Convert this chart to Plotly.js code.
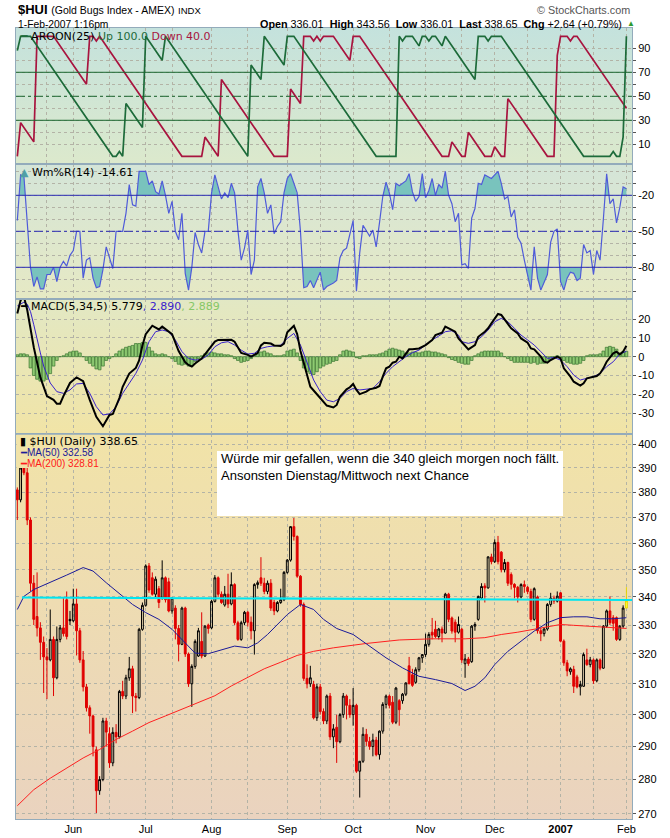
<!DOCTYPE html>
<html><head><meta charset="utf-8">
<script src="https://cdn.plot.ly/plotly-3.0.1.min.js"></script>
<style>html,body{margin:0;padding:0;background:#fff}#chart{width:670px;height:838px}</style>
</head><body><div id="chart"></div>
<script>
// ---------- axis labels ----------
const monthLabels = ['Jun','Jul','Aug','Sep','Oct','Nov','Dec','<b>2007</b>','Feb'];
const monthStart  = [17,39,59,82,102,124,145,165,185];
const midMonth    = [9,28,47,70,92,113,135,155,175];
const priceTicks  = [270,280,290,300,310,320,330,340,350,360,370,380,390,400];
const macdTicks   = [-30,-20,-10,0,10,20];
const wmrTicks    = [-100,-90,-80,-70,-60,-50,-40,-30,-20,-10,0];
const wmrLabeled  = [-20,-50,-80];
const aroonTicks  = [10,20,30,40,50,60,70,80,90];
const aroonLabeled= [10,30,50,70,90];
const aroonLevels = [30,70];  const aroonMid = 50;
const wmrLevels   = [-20,-80]; const wmrMid = -50;

// ---------- $HUI daily bars (8 May 2006 .. 1 Feb 2007) ----------
const opens = [381,377,391,388,369,345,333,329,324,319,318,325,312,325,329,339,332,331.5,337.5,328,
318,309,302.2,299.6,289,276.7,280,298,294,285,294.4,293,307.5,306,312,315,306,305.5,328.5,337,
351.4,347,341,343,339.6,347,345.5,335,336,328.8,323.3,336,320,310,315.8,319.3,324.3,319.3,330,329,
338.4,347,341,337.1,341,337.5,344.5,330.8,325,330.8,334.5,331,328,344.5,347,345,342,345,338,335,
338,339,349,353.6,366.4,362.6,347.6,337.3,311.8,310,309.8,299,309,301,298,306,293,296,291.5,300,
306,303,300,303,282.5,285.5,293.8,291.6,290,292,287.5,294.8,303.3,306,304,297.6,304.5,304.5,306.6,316,
313,310.5,314.7,318.7,319.8,323.3,327.5,328.5,326,328.6,327.2,341,332.5,331,327.5,328.5,316.7,318.3,317.4,329.6,
332,339.6,344,343.3,354.8,353,360.3,356.6,350,352.7,348.2,344.6,343.5,340,344.5,343.5,342,332,340,328,
327,328.6,337.3,339.6,338.5,341.5,324.4,317,314,314.8,312.3,309,309.2,318,316.4,318,311,318,315.2,329.6,
335,332.6,332.6,325,329.6,336.01];
const highs = [382,392,394,390,370,348,349,331,326,322,335.5,326,329.5,330,340,342,335,343,343,329,
321,310,303,300,290,281,299,299,296,296,297,308,311,313,319,316,307,329,338,352,
352.5,349,347.5,344,353.5,347.5,347,340,337,330,336.5,336.5,320.5,316.5,325,329,334.5,330,330.5,339,
348,347.5,342,344,348.5,349,345,331.5,331.5,335,335,333,345,346,354.7,347,346,346.5,339,338.5,
343,349.5,354,366.5,369.8,363,348,338,316.5,316,311,310,310,302,306.5,307,297,300,300.5,307,
306.5,305,308.6,303.5,285.5,296,295.5,293,294,293,295,304,306.5,306.5,306,309,305,307,310.5,319,
315,315.5,319,320,327,327.5,332.5,331.5,329,329.5,341.5,341.5,333,332,333,329,320,319,330,331,
340.5,345,345,355,356,361.5,362.8,357,354,353,349,345,344,345,346,344,343,343.5,340.5,329,
329,337.8,341.5,340.5,342,341.8,325,318,315.5,316,313,311,320.5,321.8,319,318.5,318.5,318.5,330,335.5,
340.2,333.5,333,330,337,343.56];
const lows = [369,376,387,367,342,330,326,318,307,305,317.5,306,311.5,324,326,325,330,331,319.5,317,
307.5,301,294,287,270.2,275.5,279.5,290,283.5,284,291,292.5,305,305,311,300.5,301,305,328,336.5,
341.5,340.5,340,336,339,338,334.5,334,325,317.5,323,319,309,302.5,315,319,318.5,319,327,328.5,
338,340,337.5,336.5,336,337,330,324.5,324.5,330,329.5,325,319.8,343,344,341,341,335,333.5,334.5,
337.5,338.5,348.5,353,361,347,336.5,311,308.5,309,298.5,298,300,297,297,292,289.5,285,291,299,
298.5,299,296.5,282,274.7,285,290.2,289,287,287,286,294,302,302,297,297,296.5,303.5,306,310,
309,310,314,317,319,322.5,325,325.5,325,324,327,331,327,324,327,317,312,316,317,328,
331.5,339,338,343,352,352.5,352,349,349,344,342.7,339.5,338,339.5,341.5,341,331,331.5,327,324.4,
326,328,336.5,337.5,338,324,316,312.5,313,307,308.5,306.2,309,316,315.5,310,310.5,314.5,315,329,
330,328,324.5,324.5,329,336.01];
const closes = [377,390,388,369,345,332,329,324,319,318,325,312,325,329,327,326,331.5,337.5,328,318,
309,302.2,299.6,290,276.7,280,298,294.5,285,294.4,293,307.5,306,312,315,306,305.5,328.5,337,351.4,
342.5,341,346.5,338,347,339,335,339.6,328.8,323.3,336,320,310,315.8,324.3,328,319.3,329.6,328.8,338.4,
347,341,338,341,337.5,344.5,330.8,325,330.8,334.5,331,328,344.5,345.2,345,342,345,336,335,338,
339,349,353.6,366.4,362.6,347.6,337.3,311.8,310,312,299,309,301,298,306,293,295.5,291.5,300,306,
303,300,303,282.5,285.5,293.8,291.6,290,292,287.5,294.8,303.3,306,303,297.6,308.6,301.6,306.6,310.3,310,
309.5,314.7,318.7,319.8,323.3,326.7,326.5,326,328.6,327.2,341,332,327.9,327.5,330.2,318,318.3,316.8,329.6,330.2,
340.2,343.8,343.3,354.8,353,360.3,353,350,352.7,345,344.6,343.5,340,344.5,343.8,342,332,343,328,327,
328.6,337.3,339.6,338.5,340.3,324.4,317,314.3,315,309.2,309,309.8,319.8,316.4,318,311,318,315.2,329.6,335,
330.8,330.6,325,329.6,336.01,338.65];

// ---------- overlays (bar index, value) ----------
const ma50 = [[0,335.5],[2,340.2],[5,342.7],[10,345.2],[15,348],[20,350.8],[23,349.5],[27,345.2],[32,340.2],[35,337.3],
[39,334.4],[43,332],[47,328.5],[51,323.8],[54,320.3],[58,320.1],[62,321.5],[66,322.7],[70,322.1],[73,323.8],[76,326.7],
[79,330.2],[82,333.7],[86,337.3],[90,335.5],[93,332],[97,328.8],[102,326.7],[107,322.7],[112,318.7],[117,315.3],[122,312.5],
[127,311.4],[132,310.1],[136,307.8],[139,309.2],[142,312],[145,316.4],[149,320.9],[153,324.4],[157,327.9],[161,330.8],
[165,332.6],[169,332.9],[173,332.9],[177,332.2],[181,332.2],[185,332.58]];
const ma200 = [[0,272.3],[5,277],[10,280.4],[15,283.4],[20,286.5],[25,289.1],[30,292.2],[35,294.8],[40,297.5],[45,299.6],
[50,301.7],[55,303.9],[60,306.1],[65,309.3],[70,312],[75,315],[80,317.2],[85,319.5],[90,320.9],[96,322.1],[106,323.6],
[116,324.8],[126,325.2],[136,325.2],[142,325.6],[147,326.7],[152,327.5],[157,328.5],[162,329.4],[165,330.2],[169,329.9],
[173,329.6],[177,329.4],[185,328.81]];
const trendIdx = [1.4,186.7];
const trendVal = [339.8,338.9];

// ---------- Aroon(25) ----------
const aroonUp = [[0,88],[1,100],[4,100],[29,0],[30,0],[31,4],[32,0],[33,44],[38,24],[39,100],[44,80],[45,100],[70,0],[71,76],
[74,64],[75,100],[81,76],[82,100],[84,100],[109,0],[115,0],[116,100],[117,96],[118,100],[120,100],[122,92],[123,100],[124,100],
[125,96],[126,100],[127,100],[129,92],[130,100],[139,64],[140,100],[142,100],[143,96],[144,100],[147,100],[172,0],[180,0],
[181,4],[182,0],[183,0],[184,16],[185,100]];
const aroonDown = [[0,0],[1,28],[5,12],[6,100],[11,100],[21,60],[22,100],[23,100],[24,96],[25,100],[50,0],[56,0],[57,16],[61,0],
[62,64],[78,0],[82,0],[83,56],[86,44],[87,100],[89,100],[90,96],[91,100],[92,96],[93,100],[96,100],[101,80],[102,100],[104,100],
[129,0],[131,0],[132,12],[135,0],[136,0],[137,20],[142,0],[144,0],[145,8],[147,0],[148,0],[149,48],[161,0],[163,0],[164,84],
[165,100],[167,100],[168,96],[169,100],[170,100],[185,40]];

// ---------- Williams %R(14) ----------
const wmr = [[0,-41],[1,-3],[2,-4],[3,-40],[4,-80],[5,-96],[6,-88],[7,-98],[8,-98],[9,-86],[10,-86],[11,-80],[12,-92],[13,-80],
[14,-75],[15,-79],[16,-70],[17,-66],[18,-50],[19,-50],[20,-89],[21,-74],[22,-72],[23,-89],[24,-97],[25,-96],[26,-82],[27,-63],
[28,-72],[29,-81],[30,-50],[32,-50],[33,-35],[34,-11],[35,-28],[36,-29],[37,0],[39,0],[40,-11],[41,-8],[42,-17],[43,-19],
[44,-8],[45,-20],[46,-35],[47,-25],[48,-50],[49,-57],[50,-35],[51,-85],[52,-99],[53,-80],[54,-51],[55,-61],[56,-68],[57,-50],
[58,-50],[59,-18],[60,-3],[61,-14],[62,-23],[63,-18],[64,-22],[65,-10],[66,-18],[67,-49],[68,-74],[69,-64],[70,-49],[71,-86],
[72,-74],[73,-13],[74,-6],[75,-18],[76,-35],[77,-28],[78,-52],[79,-46],[80,-42],[81,-18],[82,-6],[83,-2],[84,-11],[85,-18],
[86,-50],[87,-97],[88,-96],[89,-91],[90,-97],[92,-84],[93,-99],[94,-96],[96,-93],[97,-91],[98,-72],[99,-66],[100,-64],[101,-52],
[102,-41],[103,-100],[104,-68],[105,-45],[106,-49],[107,-54],[108,-49],[109,-63],[110,-43],[111,-21],[112,-9],[113,-18],
[114,-32],[115,-10],[116,-12],[118,-8],[119,-2],[120,-17],[121,-25],[122,-21],[123,-2],[124,-22],[125,-16],[126,-6],[127,-20],
[128,-11],[129,-14],[130,0],[131,-20],[132,-27],[133,-42],[134,-35],[135,-78],[136,-77],[137,-81],[138,-39],[139,-31],[140,-10],
[141,-11],[142,-3],[143,-4.5],[144,-6],[146,0],[147,-10],[148,-23],[149,-21],[150,-38],[151,-32],[152,-55],[153,-60],[154,-74],
[155,-88],[156,-99],[157,-63],[158,-89],[159,-99],[160,-93],[161,-86],[162,-59],[163,-50],[164,-48],[165,-92],[166,-99],
[167,-89],[168,-84],[169,-85],[170,-91],[171,-89],[172,-61],[173,-68],[174,-66],[175,-86],[176,-66],[177,-74],[178,-40],
[179,-2],[180,-27],[181,-23],[182,-43],[183,-30],[184,-13],[185,-14.61]];

// ---------- MACD(5,34,5) ----------
const macdLine = [[0,23],[1,30],[2,32],[3,25],[5,5],[7,-11],[9,-21],[11,-23],[12,-25],[13,-25],[14,-21],[16,-14],[18,-11],
[20,-13],[22,-23],[24,-32],[26,-37],[28,-31],[29,-30.5],[31,-22],[32,-16],[34,-9],[36,-6],[37,-2],[38,6],[39,12],[41,16.5],
[43,14.5],[44,16],[46,13],[47,12],[49,3],[51,-3],[52,-4.4],[53,-5.3],[54,-3.6],[56,-1],[58,3.5],[60,8],[61,8.9],[63,9],[65,9],
[66,8],[67,5],[68,2],[70,1],[71,0],[73,2],[74,6],[75,7.4],[77,7],[78,6],[80,5.7],[81,7],[82,13],[84,16.5],[85,12],[86,3],
[88,-9],[89,-16],[91,-20],[92,-22],[94,-26],[96,-27],[97,-25.7],[98,-21.3],[100,-17.4],[101,-16.3],[102,-14.5],[103,-17.7],
[104,-19.9],[106,-18.6],[107,-17.4],[109,-16.5],[110,-15.6],[111,-10.6],[112,-6.2],[113,-5.3],[114,-3.2],[115,-2.7],[116,0],
[117,-0.9],[118,1.8],[119,3.9],[120,3.9],[122,4.4],[124,6.2],[126,8.9],[127,11.5],[129,12.8],[130,16],[131,15.1],[133,13.3],
[134,9.7],[136,6.2],[137,3.9],[139,6.2],[140,10.6],[142,13.3],[143,15.1],[144,17.7],[145,20.4],[146,22.7],[147,22.2],
[148,19.8],[149,17.7],[150,15.1],[152,12.4],[153,9.7],[155,7.4],[156,4.4],[157,3.9],[159,0],[160,-2.7],[161,-3.2],[162,-1.8],
[164,0],[165,-0.9],[166,-6.2],[168,-10.6],[169,-13.3],[171,-15.4],[172,-14.2],[173,-11.5],[175,-10.6],[176,-10.3],[177,-8.9],
[178,-6.2],[179,-2.7],[180,-0.4],[181,1.8],[182,2.7],[183,1.2],[184,2.7],[185,5.779]];
const macdSignal = [[0,27],[2,29],[3,28],[4,24],[5,17],[6,9],[7,2],[8,-5],[10,-14],[12,-18.6],[14,-19.5],[16,-17.7],[18,-14.5],
[20,-14.2],[22,-19.5],[24,-26.6],[26,-31],[28,-30.5],[30,-26.6],[32,-19.5],[34,-14.2],[36,-8.9],[38,-1.8],[40,8],[42,13.3],
[44,14.2],[46,13.3],[48,8.9],[50,2.7],[52,-0.9],[54,-1.8],[56,-1.4],[58,0.9],[60,5.3],[62,7.4],[64,8],[66,6.2],[68,3.5],
[70,1.4],[72,1.8],[74,4.4],[76,5.3],[78,5.7],[80,6.2],[82,9.7],[84,12.4],[86,6.2],[88,-3.6],[90,-12.4],[92,-18.6],[94,-23.1],
[96,-24],[98,-22.2],[100,-18.6],[102,-16.9],[104,-17.7],[106,-17.4],[108,-16.9],[110,-13.3],[112,-8.9],[114,-5.3],[116,-2.7],
[118,0],[120,2.1],[122,3.5],[124,6.2],[126,8.9],[128,11],[130,13.3],[132,13.8],[134,11.5],[135,8],[137,7.1],[139,8],[141,10.6],
[143,14.2],[145,18.6],[147,20.4],[149,18.6],[151,15.1],[153,11.5],[155,8.9],[157,6.2],[159,2.7],[161,-0.9],[163,-0.4],
[165,-1.8],[167,-5.3],[169,-9.8],[171,-12.4],[173,-11.5],[175,-10.6],[177,-8.9],[179,-5.3],[181,-2.7],[183,1.4],[185,2.89]];
const macdHist = [1,1.5,1.5,1,-6,-10,-12,-13,-13,-12,-9,-5,-2,0,0.5,1.5,2.5,
3,3,2,0,-2,-3.5,-5,-6.5,-7,-5,-2,-1,0,
1.5,3,4,5,5.5,6,7,7,7.5,7.5,5,3,1.5,1,1.5,1,
0,-1,-2.5,-4,-4.5,-4,-5,-5,-2.5,-1,0.5,1.5,2,
2.5,2,1.5,1.5,1,1,0.5,-1,-2,-3,-2.5,-2,-1,0.5,
1.5,2.5,3,2,1.5,0.5,0.5,0.5,1,3,3.5,4,2,
-2,-6,-8,-9,-9.5,-8,-6,-5,-4,-3.5,-2.5,
-2,1,3,3.5,3,2.5,-0.5,-1,0.5,0.5,1,1,1,1.5,
2,3,4,4.5,4,3.5,3,2,2,2.5,2.5,2,2.5,3,3,2.5,2.5,2,1.5,1,
-0.5,-1.5,-2,-3,-3.5,-4,-4,-2,0.5,1.5,2.5,3,3,3,3,3,2,0,
-1,-2,-3,-3,-3,-3,-3,-3.5,-3,-4,-3.5,-3.5,-2.5,-1.5,0,0.5,-0.5,
-2,-3,-3.5,-4,-4,-3.5,-2,0.5,1,1,1,1.5,3,5,5.5,5,4,2,2.5,2.889];

// ---------- build ----------
const N = closes.length, last = N - 1;
const idx = closes.map((_, i) => i);
const px = p => p[0], pv = p => p[1];
const pick = (arr, ids) => ids.map(i => arr[i]);
const fx = p => (p - 16) / 616;          // page pixel -> paper x
const fy = p => (819 - p) / 791;         // page pixel -> paper y

const dPrice = [0, fy(434.3)], dMacd = [fy(434.3), fy(299)], dWmr = [fy(299), fy(164.3)], dAroon = [fy(164.3), 1];

const upIds  = idx.filter(i => i > 0 && i < last && closes[i] >= closes[i-1]);
const dnIds  = idx.filter(i => i < last && !(i > 0 && closes[i] >= closes[i-1]));
function candles(ids, col, fillUp, fillDn) {
  return {type:'candlestick', x:ids, open:pick(opens,ids), high:pick(highs,ids), low:pick(lows,ids), close:pick(closes,ids),
    xaxis:'x', yaxis:'y', line:{width:1}, whiskerwidth:0,
    increasing:{line:{color:col, width:1}, fillcolor:fillUp},
    decreasing:{line:{color:col, width:1}, fillcolor:fillDn},
    hoverinfo:'skip', showlegend:false};
}
const line = (pts, ax, ay, color, width) => ({type:'scatter', mode:'lines', x:pts.map(px), y:pts.map(pv),
  xaxis:ax, yaxis:ay, line:{color, width}, hoverinfo:'skip', showlegend:false});

// portion of %R beyond a level, with segment crossings, for the shaded areas
function beyond(pts, level, above) {
  const X = [], Y = [];
  for (let k = 0; k < pts.length; k++) {
    if (k > 0) {
      const [x0, y0] = pts[k-1], [x1, y1] = pts[k];
      if ((y0 - level) * (y1 - level) < 0) { const t = (level - y0) / (y1 - y0); X.push(x0 + t * (x1 - x0)); Y.push(level); }
    }
    X.push(pts[k][0]); Y.push(above ? Math.max(pts[k][1], level) : Math.min(pts[k][1], level));
  }
  return {X, Y};
}
const wmrFill = [];
[[wmrLevels[0], true], [wmrLevels[1], false]].forEach(([lev, ab]) => {
  const b = beyond(wmr, lev, ab);
  wmrFill.push({type:'scatter', mode:'lines', x:[b.X[0], b.X[b.X.length-1]], y:[lev, lev], xaxis:'x3', yaxis:'y3',
    line:{width:0, color:'rgba(0,0,0,0)'}, hoverinfo:'skip', showlegend:false});
  wmrFill.push({type:'scatter', mode:'lines', x:b.X, y:b.Y, xaxis:'x3', yaxis:'y3', fill:'tonexty',
    fillcolor:'#79c3bd', line:{width:0, color:'rgba(0,0,0,0)'}, hoverinfo:'skip', showlegend:false});
});

const AUP = '#1d6b3a', ADN = '#a8143f', WBLUE = '#4f5bd9', SIGBLUE = '#3a22cc';
const data = [
  candles(upIds, '#000', 'rgba(0,0,0,0)', '#000'),
  candles(dnIds, '#e00000', 'rgba(0,0,0,0)', '#e00000'),
  candles([last], '#e6d400', '#ffff3a', '#ffff3a'),
  line(ma200, 'x', 'y', '#ff2020', 1),
  line(ma50, 'x', 'y', '#1a1a99', 1),
  {type:'scatter', mode:'lines', x:trendIdx, y:trendVal, xaxis:'x', yaxis:'y', line:{color:'#00e6f0', width:2.2}, hoverinfo:'skip', showlegend:false},
  {type:'bar', x:idx, y:macdHist, xaxis:'x2', yaxis:'y2', width:0.85, marker:{color:'#8fca72', line:{color:'#3a7430', width:0.7}}, hoverinfo:'skip', showlegend:false},
  line(macdSignal, 'x2', 'y2', SIGBLUE, 1),
  line(macdLine, 'x2', 'y2', '#000', 2),
  ...wmrFill,
  line(wmr, 'x3', 'y3', WBLUE, 1.2),
  line(aroonDown, 'x4', 'y4', ADN, 1.7),
  line(aroonUp, 'x4', 'y4', AUP, 1.7)
];

const gridIdx = [...monthStart, ...midMonth].sort((a, b) => a - b);
const gridText = gridIdx.map(v => { const k = monthStart.indexOf(v); return k >= 0 ? monthLabels[k] : ''; });
const FRAME = '#93abbb', GRID = '#b3b3a6';
const FONT = 'Liberation Sans';
const xBase = {range:[-0.4, 186.7], tickmode:'array', tickvals:gridIdx, ticktext:gridText, showgrid:true, gridcolor:GRID,
  griddash:'dot', gridwidth:1, zeroline:false, showline:true, mirror:true, linecolor:FRAME, linewidth:1, ticks:'',
  tickfont:{family:FONT, size:11, color:'#000'}, fixedrange:true};
const yBase = {side:'right', showgrid:true, gridcolor:GRID, griddash:'dot', gridwidth:1, zeroline:false, showline:true,
  mirror:true, linecolor:FRAME, linewidth:1, ticks:'outside', ticklen:3, tickcolor:'#555', tickmode:'array',
  tickfont:{family:FONT, size:11, color:'#000'}, fixedrange:true};

function gradImg(c1, c2) {
  const svg = "<svg xmlns='http://www.w3.org/2000/svg' width='100' height='100' viewBox='0 0 100 100' preserveAspectRatio='none'>" +
    "<defs><linearGradient id='g' x1='0' y1='0' x2='0' y2='1'><stop offset='0' stop-color='" + c1 + "'/><stop offset='1' stop-color='" + c2 + "'/></linearGradient></defs>" +
    "<rect width='100' height='100' fill='url(#g)'/></svg>";
  return 'data:image/svg+xml;charset=utf-8,' + encodeURIComponent(svg);
}
const bg = (dom, c1, c2) => ({source:gradImg(c1, c2), xref:'paper', yref:'paper', x:0, y:dom[1], sizex:1, sizey:dom[1]-dom[0],
  xanchor:'left', yanchor:'top', sizing:'stretch', layer:'below'});

const hLine = (yref, y, color, dash) => ({type:'line', xref:'paper', x0:0, x1:1, yref, y0:y, y1:y, line:{color, width:1, dash}, layer:'above'});

const LF = 'DejaVu Sans';
const ann = (x, y, text, size, family, extra) => Object.assign({xref:'paper', yref:'paper', x:fx(x), y:fy(y), xanchor:'left', yanchor:'middle',
  text, showarrow:false, font:{family, size, color:'#000'}, align:'left'}, extra || {});

const chg = closes[last] - closes[last-1];
const f2 = v => v.toFixed(2);
const hdrRight = '<b>Open</b> ' + f2(opens[last]) + '\u00a0 <b>High</b> ' + f2(highs[last]) + '\u00a0 <b>Low</b> ' + f2(lows[last]) +
  '\u00a0 <b>Last</b> ' + f2(closes[last]) + '\u00a0 <b>Chg</b> +' + f2(chg) + ' (+' + f2(chg / closes[last-1] * 100) + '%)';
const lastOf = a => a[a.length-1][1];

const annotations = [
  ann(16, 9.2, '<b>$HUI</b> <span style="font-size:10.5px">(Gold Bugs Index - AMEX)</span> <span style="font-size:9.5px">INDX</span>', 13, FONT),
  ann(16, 24.2, '1-Feb-2007 1:16pm', 10.3, FONT),
  ann(632, 10, '\u00a9 StockCharts.com', 10.8, FONT, {xanchor:'right', font:{family:FONT, size:10.8, color:'#555'}}),
  ann(624, 24, hdrRight, 10.8, FONT, {xanchor:'right'}),
  ann(625, 23.5, '\u25B2', 8, FONT, {font:{family:FONT, size:8, color:'#2f9a2f'}}),
  ann(18, 36.3, '<span style="color:' + AUP + '">\u2501</span> AROON(25) <span style="color:' + AUP + '">Up ' + lastOf(aroonUp).toFixed(1) +
    '</span> <span style="color:' + ADN + '">Down ' + lastOf(aroonDown).toFixed(1) + '</span>', 11, LF),
  ann(18, 172, '<span style="color:#4f9fa6">\u25B2</span> Wm%R(14) ' + lastOf(wmr).toFixed(2), 11, LF),
  ann(18, 306, '\u2501 MACD(5,34,5) ' + lastOf(macdLine).toFixed(3) + '<span style="color:' + SIGBLUE + '">, ' + lastOf(macdSignal).toFixed(3) +
    '</span><span style="color:#86c766">, ' + macdHist[last].toFixed(3) + '</span>', 11, LF),
  ann(18, 441.7, '\u25AE $HUI (Daily) ' + f2(closes[last]), 11, LF),
  ann(18, 452.7, '\u2501MA(50) ' + f2(lastOf(ma50)), 10, FONT, {font:{family:FONT, size:10, color:'#1a1a99'}}),
  ann(18, 463.7, '\u2501MA(200) ' + f2(lastOf(ma200)), 10, FONT, {font:{family:FONT, size:10, color:'#ff1a1a'}}),
  ann(219, 449, 'W\u00fcrde mir gefallen, wenn die 340 gleich morgen noch f\u00e4llt.<br>Ansonsten Dienstag/Mittwoch next Chance', 13, FONT,
    {yanchor:'top'})
];

const shapes = [
  ...aroonLevels.map(v => hLine('y4', v, '#1a6630', 'solid')),
  hLine('y4', aroonMid, '#1a6630', 'dashdot'),
  ...wmrLevels.map(v => hLine('y3', v, '#2b2bb5', 'solid')),
  hLine('y3', wmrMid, '#2b2bb5', 'dashdot'),
  {type:'rect', xref:'paper', yref:'paper', x0:fx(16.6), x1:fx(100), y0:fy(468), y1:fy(434.8), fillcolor:'#f1e3a8', line:{width:0}, layer:'above'},
  {type:'rect', xref:'paper', yref:'paper', x0:fx(217), x1:fx(563), y0:fy(516), y1:fy(451), fillcolor:'#ffffff', line:{width:0}, layer:'above'}
];

const layout = {
  width:670, height:838, margin:{l:16, r:38, t:28, b:19}, paper_bgcolor:'#ffffff', plot_bgcolor:'rgba(0,0,0,0)',
  showlegend:false, boxgap:0.2, bargap:0, font:{family:FONT, size:11, color:'#000'},
  xaxis: Object.assign({}, xBase, {anchor:'y', rangeslider:{visible:false}}),
  xaxis2: Object.assign({}, xBase, {anchor:'y2', matches:'x', showticklabels:false}),
  xaxis3: Object.assign({}, xBase, {anchor:'y3', matches:'x', showticklabels:false}),
  xaxis4: Object.assign({}, xBase, {anchor:'y4', matches:'x', showticklabels:false}),
  yaxis: Object.assign({}, yBase, {domain:dPrice, type:'log', range:[Math.log10(268.5), Math.log10(404.2)], anchor:'x',
    tickvals:priceTicks, ticktext:priceTicks.map(String)}),
  yaxis2: Object.assign({}, yBase, {domain:dMacd, range:[-41.3, 30.7], anchor:'x2', tickvals:macdTicks, ticktext:macdTicks.map(String)}),
  yaxis3: Object.assign({}, yBase, {domain:dWmr, range:[-106.4, 5.83], anchor:'x3', tickvals:wmrTicks,
    ticktext:wmrTicks.map(v => wmrLabeled.includes(v) ? String(v) : '')}),
  yaxis4: Object.assign({}, yBase, {domain:dAroon, range:[-6.67, 106.9], anchor:'x4', tickvals:aroonTicks,
    ticktext:aroonTicks.map(v => aroonLabeled.includes(v) ? String(v) : '')}),
  images:[bg(dAroon, '#c4e2dd', '#dce9cc'), bg(dWmr, '#d4e5d8', '#e6e9c4'), bg(dMacd, '#e2e8c4', '#f1e4a6'), bg(dPrice, '#f1e3a8', '#ead3bf')],
  shapes, annotations
};

Plotly.newPlot('chart', data, layout, {staticPlot:true, displayModeBar:false});
</script></body></html>
